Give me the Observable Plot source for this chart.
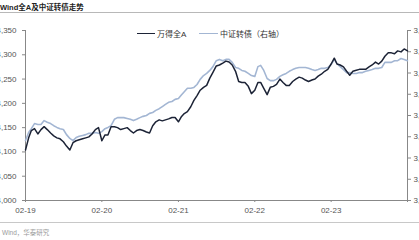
<!DOCTYPE html>
<html><head><meta charset="utf-8">
<script src="https://cdn.jsdelivr.net/npm/d3@7"></script>
<script src="https://cdn.jsdelivr.net/npm/@observablehq/plot@0.6"></script>
<style>
html,body{margin:0;padding:0;background:#fff;overflow:hidden;}
#wrap{position:relative;width:419px;height:240px;font-family:"Liberation Sans",Arial,"Noto Sans CJK SC",sans-serif;}
#chart{position:absolute;left:0;top:0;}
.ov{position:absolute;white-space:nowrap;}
#title{left:0px;top:1px;font:bold 7.5px "Liberation Sans","Noto Sans CJK SC",sans-serif;color:#222;}
#tline{left:0;top:12px;width:419px;height:1px;background:#b8b8b8;}
#fline{left:0;top:222px;width:419px;height:1px;background:#c8c8c8;}
#foot{left:2px;top:227px;font:6.5px "Liberation Sans","Noto Sans CJK SC",sans-serif;color:#9a9a9a;}
.lg{top:28px;font:8px "Liberation Sans","Noto Sans CJK SC",sans-serif;color:#333;}
.sw{position:absolute;height:1.6px;top:32.5px;}
</style></head>
<body>
<div id="wrap">
<div id="chart"></div>
<div class="ov" id="title">Wind全A及中证转债走势</div>
<div class="ov" id="tline"></div>
<div class="sw" style="left:137px;width:18px;background:#1c2336"></div>
<div class="ov lg" style="left:157px">万得全A</div>
<div class="sw" style="left:199px;width:19px;background:#a3b6d3"></div>
<div class="ov lg" style="left:220px">中证转债（右轴）</div>
<div class="ov" id="fline"></div>
<div class="ov" id="foot">Wind，华泰研究</div>
</div>
<script>
const dates = [
"2019-02-01","2019-02-16","2019-03-01","2019-03-16","2019-04-01","2019-04-16","2019-05-01","2019-05-16","2019-06-01","2019-06-16","2019-07-01","2019-07-16",
"2019-08-01","2019-08-16","2019-09-01","2019-09-16","2019-10-01","2019-10-16","2019-11-01","2019-11-16","2019-12-01","2019-12-16","2020-01-01","2020-01-16",
"2020-02-01","2020-02-16","2020-03-01","2020-03-16","2020-04-01","2020-04-16","2020-05-01","2020-05-16","2020-06-01","2020-06-16","2020-07-01","2020-07-16",
"2020-08-01","2020-08-16","2020-09-01","2020-09-16","2020-10-01","2020-10-16","2020-11-01","2020-11-16","2020-12-01","2020-12-16","2021-01-01","2021-01-16",
"2021-02-01","2021-02-16","2021-03-01","2021-03-16","2021-04-01","2021-04-16","2021-05-01","2021-05-16","2021-06-01","2021-06-16","2021-07-01","2021-07-16",
"2021-08-01","2021-08-16","2021-09-01","2021-09-16","2021-10-01","2021-10-16","2021-11-01","2021-11-16","2021-12-01","2021-12-16","2022-01-01","2022-01-16",
"2022-02-01","2022-02-16","2022-03-01","2022-03-16","2022-04-01","2022-04-16","2022-05-01","2022-05-16","2022-06-01","2022-06-16","2022-07-01","2022-07-16",
"2022-08-01","2022-08-16","2022-09-01","2022-09-16","2022-10-01","2022-10-16","2022-11-01","2022-11-16","2022-12-01","2022-12-16","2023-01-01","2023-01-16",
"2023-02-01","2023-02-16","2023-03-01","2023-03-16","2023-04-01","2023-04-16","2023-05-01","2023-05-16","2023-06-01","2023-06-16","2023-07-01","2023-07-16",
"2023-08-01","2023-08-16","2023-09-01","2023-09-16","2023-10-01","2023-10-16","2023-11-01","2023-11-16","2023-12-01","2023-12-16","2024-01-01","2024-01-16",
"2024-02-01"];

const windA = [
4104,4129,4144,4148,4137,4146,4152,4146,4139,4133,4129,4127,4121,4112,4104,4119,4123,4125,4127,4129,4131,4137,4146,4150,
4123,4135,4135,4152,4152,4150,4146,4148,4150,4144,4139,4144,4146,4144,4141,4139,4154,4162,4166,4164,4166,4168,4171,4171,
4162,4173,4179,4183,4193,4206,4216,4227,4233,4237,4252,4264,4277,4279,4283,4287,4285,4279,4266,4245,4243,4243,4235,4220,
4227,4243,4243,4231,4218,4233,4235,4239,4250,4243,4237,4237,4245,4250,4254,4252,4248,4245,4248,4250,4256,4260,4266,4270,
4281,4293,4281,4279,4275,4266,4258,4266,4268,4270,4270,4270,4275,4279,4285,4281,4287,4297,4304,4304,4302,4308,4306,4312,
4308];

const cbIndex = [
3141,3160,3169,3181,3179,3179,3188,3184,3181,3176,3172,3169,3167,3155,3146,3141,3148,3151,3153,3155,3158,3158,3160,3158,
3162,3169,3172,3176,3191,3195,3195,3195,3193,3191,3188,3191,3195,3198,3200,3205,3207,3212,3216,3221,3226,3231,3233,3238,
3240,3249,3256,3264,3264,3266,3273,3285,3294,3299,3306,3315,3329,3332,3329,3332,3332,3325,3313,3311,3306,3304,3299,3294,
3292,3315,3318,3306,3287,3282,3282,3285,3292,3296,3299,3304,3308,3311,3313,3313,3313,3311,3308,3306,3308,3311,3311,3313,
3320,3332,3322,3315,3308,3301,3301,3299,3299,3301,3301,3304,3306,3308,3311,3311,3313,3325,3325,3325,3329,3329,3334,3332,
3329];

const leftTicks = [4000,4050,4100,4150,4200,4250,4300,4350];
const rightTicks = [3000,3050,3100,3150,3200,3250,3300,3350,3400];
const xTickDates = ["2019-02-01","2020-02-01","2021-02-01","2022-02-01","2023-02-01","2024-02-01"];
const xTickLabels = ["02-19","02-20","02-21","02-22","02-23",""];

const leftDomain = [4000, 4350];
const rightDomain = [3000, 3400];
const toLeft = r => leftDomain[0] + (r - rightDomain[0]) * (leftDomain[1]-leftDomain[0]) / (rightDomain[1]-rightDomain[0]);

const parse = d3.utcParse("%Y-%m-%d");
const n = Math.min(dates.length, windA.length, cbIndex.length);
const rows = d3.range(n).map(i => ({date: parse(dates[i]), a: windA[i], cb: toLeft(cbIndex[i])}));
const xStart = parse(xTickDates[0]), xEnd = parse(xTickDates[xTickDates.length-1]);
const fmt = d3.format(",");

const chart = Plot.plot({
  width: 419, height: 240,
  marginLeft: 25, marginRight: 12, marginTop: 30, marginBottom: 40,
  style: {fontFamily: "'Liberation Sans', Arial, sans-serif", fontSize: "8px", color: "#555", background: "transparent", overflow: "visible"},
  x: {type: "utc", domain: [xStart, xEnd]},
  y: {domain: leftDomain},
  marks: [
    Plot.axisY(leftTicks, {anchor: "left", tickSize: 3, tickPadding: 6, tickFormat: d => fmt(d), stroke: "#888", fill: "#555", label: null}),
    Plot.axisY(rightTicks.map(toLeft), {anchor: "right", tickSize: 3, tickPadding: 3, tickFormat: (d, i) => fmt(rightTicks[i]), stroke: "#888", fill: "#555", label: null}),
    Plot.axisX(xTickDates.map(parse), {anchor: "bottom", tickSize: 2, tickPadding: 5, tickFormat: (d, i) => xTickLabels[i], stroke: "#888", fill: "#555", label: null}),
    Plot.ruleX([xStart], {y1: leftDomain[0], y2: leftDomain[1], stroke: "#888"}),
    Plot.ruleX([xEnd], {y1: leftDomain[0], y2: leftDomain[1], stroke: "#888"}),
    Plot.ruleY([leftDomain[0]], {x1: xStart, x2: xEnd, stroke: "#888"}),
    Plot.lineY(rows, {x: "date", y: "cb", stroke: "#a3b6d3", strokeWidth: 1.6}),
    Plot.lineY(rows, {x: "date", y: "a", stroke: "#1c2336", strokeWidth: 1.5})
  ]
});
document.getElementById("chart").appendChild(chart);
</script>
</body></html>
